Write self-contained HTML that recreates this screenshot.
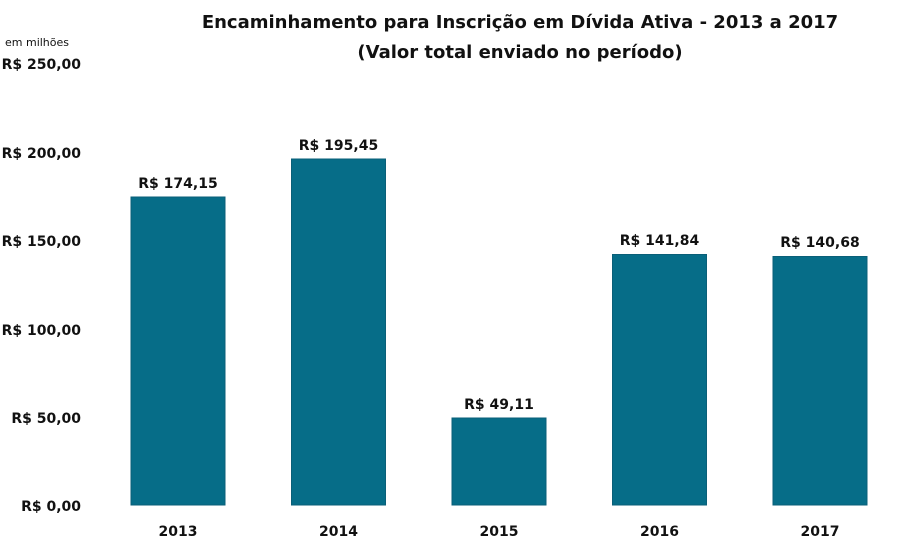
<!DOCTYPE html>
<html><head><meta charset="utf-8"><style>
body{margin:0;background:#fff;width:900px;height:546px;overflow:hidden;font-family:"DejaVu Sans","Liberation Sans",sans-serif;}
svg text{font-family:"DejaVu Sans","Liberation Sans",sans-serif;fill:#111;}
</style></head><body>
<svg width="900" height="546" viewBox="0 0 900 546">
<g font-weight="bold">
<text x="520" y="28" font-size="18" text-anchor="middle">Encaminhamento para Inscrição em Dívida Ativa - 2013 a 2017</text>
<text x="520" y="58" font-size="18" text-anchor="middle">(Valor total enviado no período)</text>
</g>
<text x="5" y="46" font-size="11">em milhões</text>
<g font-size="14" font-weight="bold" text-anchor="end">
<text x="81" y="69">R$ 250,00</text>
<text x="81" y="158">R$ 200,00</text>
<text x="81" y="246">R$ 150,00</text>
<text x="81" y="335">R$ 100,00</text>
<text x="81" y="423">R$ 50,00</text>
<text x="81" y="511">R$ 0,00</text>
</g>
<g fill="#066d88" stroke="#0a5f78" stroke-width="1">
<rect x="131" y="197" width="94" height="308"/>
<rect x="291.5" y="159" width="94" height="346"/>
<rect x="452" y="418" width="94" height="87"/>
<rect x="612.5" y="254.5" width="94" height="250.5"/>
<rect x="773" y="256.5" width="94" height="248.5"/>
</g>
<g font-size="14" font-weight="bold" text-anchor="middle">
<text x="178" y="188">R$ 174,15</text>
<text x="338.5" y="150">R$ 195,45</text>
<text x="499" y="409">R$ 49,11</text>
<text x="659.5" y="245">R$ 141,84</text>
<text x="820" y="247">R$ 140,68</text>
</g>
<g font-size="14" font-weight="bold" text-anchor="middle">
<text x="178" y="536">2013</text>
<text x="338.5" y="536">2014</text>
<text x="499" y="536">2015</text>
<text x="659.5" y="536">2016</text>
<text x="820" y="536">2017</text>
</g>
</svg>
</body></html>
